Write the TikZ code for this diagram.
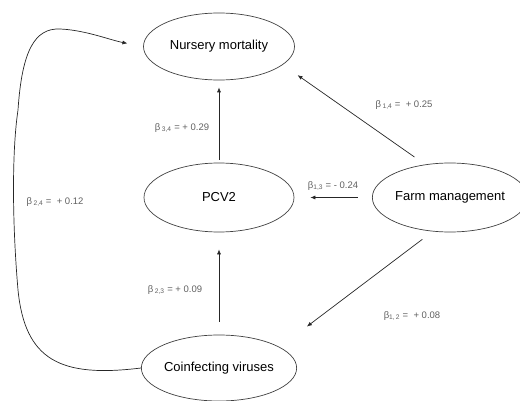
\documentclass[tikz,border=0pt]{standalone}
\usepackage{fontspec}
\setmainfont{Liberation Sans}
\usepackage{tikz}
\usetikzlibrary{shapes.geometric, arrows.meta, positioning}
\definecolor{linegray}{rgb}{0.25, 0.25, 0.25}
\definecolor{labelgray}{rgb}{0.38, 0.38, 0.38}
\newcommand{\bsub}[1]{\textsubscript{#1}}

\tikzset{
	var/.style={ellipse, draw=linegray, line width=0.7pt, inner sep=0pt, font=\fontsize{13}{15}\selectfont},
	coef/.style={text=labelgray, inner sep=1pt, font=\fontsize{9.5}{11}\selectfont},
	arr/.style={draw=black!85, line width=0.7pt, -{Latex[length=5pt,width=4pt]}}
}

\begin{document}
\begin{tikzpicture}[x=1pt, y=1pt]
	\useasboundingbox (0,0) rectangle (520,400);
	
	\node[var, minimum width=151pt, minimum height=67pt] (nur) at (219,353.5) {Nursery mortality};
	\node[var, minimum width=150pt, minimum height=69pt] (pcv) at (219,202.5) {PCV2};
	\node[var, minimum width=140pt, minimum height=69pt] (farm) at (450,202.5) {Farm management};
	\node[var, minimum width=150pt, minimum height=66pt] (coinf) at (219,32) {Coinfecting viruses};
	
	\draw[arr, shorten <=3pt, shorten >=7pt] (pcv.north) -- (nur.south);
	\draw[arr, shorten <=13pt, shorten >=17pt] (coinf.north) -- (pcv.south);
	\draw[arr, shorten <=14pt, shorten >=16pt] (farm.west) -- (pcv.east);
	\draw[arr, shorten <=13pt, shorten >=18pt] (farm.127) -- (nur.-16);
	\draw[arr, shorten <=13pt, shorten >=34pt] (farm.-117) -- (coinf.19);
	\draw[arr, shorten >=16pt] (coinf.west) .. controls (60,22) and (25,40) .. (18,110)
		.. controls (12,180) and (12,250) .. (18,290)
		.. controls (22,350) and (35,372) .. (60,371)
		.. controls (85,370) and (110,360) .. (nur.west);
	
	\node[coef] (b34) at (182,272) {β\,\bsub{3,4} = + 0.29};
	\node[coef] (b14) at (404,295) {β\,\bsub{1,4} =~ + 0.25};
	\node[coef] (b13) at (333,214) {β\bsub{1,3} = - 0.24};
	\node[coef] (b24) at (55,198) {β\,\bsub{2,4} =~ + 0.12};
	\node[coef] (b23) at (175,110) {β\,\bsub{2,3} = + 0.09};
	\node[coef] (b12) at (412,84) {β\bsub{1,\,2} =~ + 0.08};
\end{tikzpicture}
\end{document}
